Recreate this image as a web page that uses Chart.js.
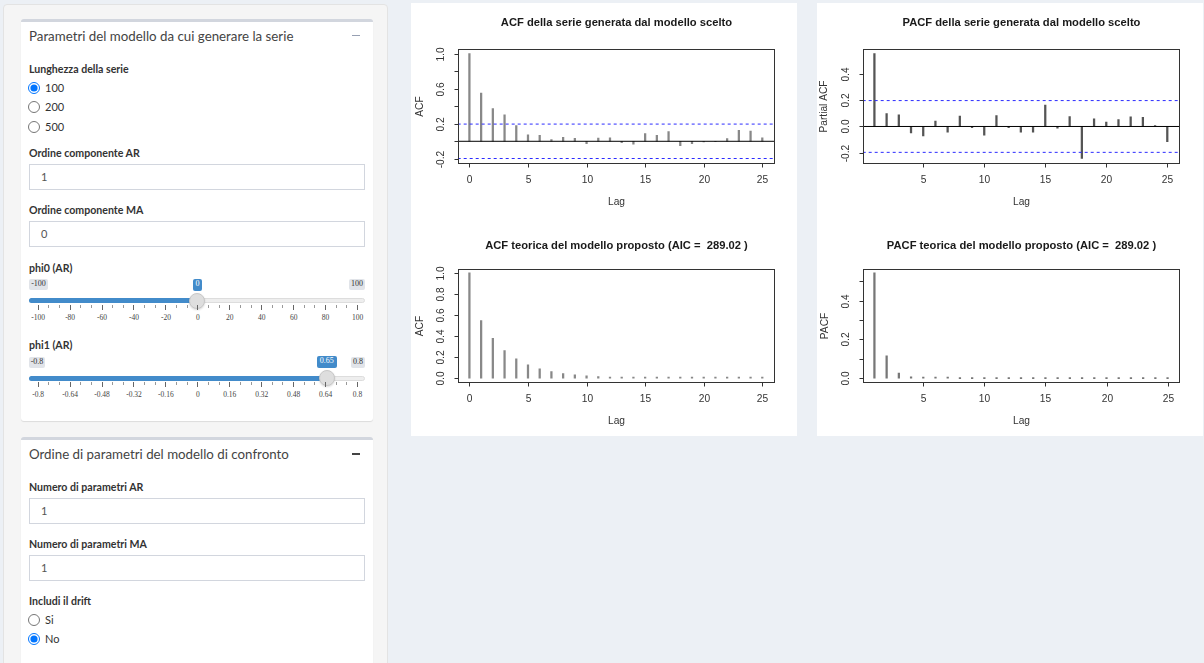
<!DOCTYPE html>
<html>
<head>
<meta charset="utf-8">
<script src="https://cdn.jsdelivr.net/npm/chart.js@4.4.0/dist/chart.umd.min.js"></script>
<style>
  body { margin: 0; width: 1204px; height: 663px; overflow: hidden; background: #ecf0f5; position: relative;
         font-family: Lato, "Noto Sans", sans-serif; color: #333; }
  .abs { position: absolute; }
  .well { left: 3px; top: 4px; width: 383px; height: 700px; background: #f5f5f5; border: 1px solid #e3e3e3; border-radius: 4px; }
  .box { left: 21px; width: 352px; background: #fff; border-top: 3px solid #d2d6de; border-radius: 3px;
         box-shadow: 0 1px 1px rgba(0,0,0,.1); }
  .t { position: absolute; white-space: nowrap; height: 16px; line-height: 16px; }
  .hdr { font-size: 13.3px; color: #444; }
  .lbl { font-weight: 700; font-size: 10.6px; color: #333; }
  .opt { font-size: 11px; color: #333; }
  .inp { position: absolute; left: 29px; width: 336px; height: 26px; box-sizing: border-box; border: 1px solid #d2d6de; background: #fff; }
  .val { position: absolute; left: 11px; top: 4px; font-size: 11px; color: #555; line-height: 16px; }
  input[type=radio] { position: absolute; margin: 0; width: 12px; height: 12px; }
  .minmax { position: absolute; height: 11px; line-height: 11px; font: 8px "Liberation Serif", serif; color: #333;
            background: #e1e4e9; border-radius: 2px; text-align: center; }
  .single { position: absolute; height: 12px; line-height: 12px; font: 8px "Liberation Serif", serif; color: #fff;
            background: #428bca; border-radius: 2px; text-align: center; }
  .track { position: absolute; left: 29px; width: 336px; height: 5px; background: #eee; border: 1px solid #ddd; box-sizing: border-box; border-radius: 3px; }
  .fill { position: absolute; left: 29px; height: 5px; background: #428bca; border-radius: 3px 0 0 3px; }
  .handle { position: absolute; width: 16px; height: 16px; border-radius: 50%; background: #dedede; border: 1px solid #c8c8c8;
            box-sizing: border-box; box-shadow: 0 1px 2px rgba(0,0,0,.15); }
  .tick { position: absolute; width: 1px; background: #666; }
  .glab { position: absolute; font: 7.5px "Liberation Serif", serif; color: #444; transform: translateX(-50%); white-space: nowrap; line-height: 9px; }
  .panel { background: #fff; top: 3px; width: 386px; height: 433px; }
  canvas { position: absolute; left: 0; }
</style>
</head>
<body>
<div class="abs well"></div>

<div class="abs box" style="top:19px;height:399px"></div>
<div class="t hdr" style="left:29px;top:28px">Parametri del modello da cui generare la serie</div>
<div class="abs" style="left:352px;top:35px;width:8px;height:1px;background:#97a0b3"></div>

<div class="t lbl" style="left:29px;top:61px">Lunghezza della serie</div>
<input type="radio" name="n" checked style="left:27.5px;top:81.5px">
<div class="t opt" style="left:45px;top:79.5px">100</div>
<input type="radio" name="n" style="left:27.5px;top:101px">
<div class="t opt" style="left:45px;top:99px">200</div>
<input type="radio" name="n" style="left:27.5px;top:120.5px">
<div class="t opt" style="left:45px;top:118.5px">500</div>

<div class="t lbl" style="left:29px;top:144.5px">Ordine componente AR</div>
<div class="inp" style="top:164px"><span class="val">1</span></div>
<div class="t lbl" style="left:29px;top:201.5px">Ordine componente MA</div>
<div class="inp" style="top:220.5px"><span class="val">0</span></div>

<div class="t lbl" style="left:29px;top:259.5px">phi0 (AR)</div>
<div class="minmax" style="left:29px;top:279px;width:19px">-100</div>
<div class="minmax" style="left:349px;top:279px;width:16px">100</div>
<div class="single" style="left:193px;top:278.5px;width:9px">0</div>
<div class="track" style="top:298px"></div>
<div class="fill" style="top:298px;width:168px"></div>
<div class="handle" style="left:189px;top:292.5px"></div>
<div id="grid0"></div>

<div class="t lbl" style="left:29px;top:337px">phi1 (AR)</div>
<div class="minmax" style="left:29px;top:356.5px;width:16px">-0.8</div>
<div class="minmax" style="left:351px;top:356.5px;width:14px">0.8</div>
<div class="single" style="left:317px;top:356px;width:19.5px">0.65</div>
<div class="track" style="top:375.5px"></div>
<div class="fill" style="top:375.5px;width:298px"></div>
<div class="handle" style="left:318.7px;top:370px"></div>
<div id="grid1"></div>

<div class="abs box" style="top:437px;height:300px"></div>
<div class="t hdr" style="left:29px;top:446px">Ordine di parametri del modello di confronto</div>
<div class="abs" style="left:352px;top:453px;width:8px;height:2px;background:#444"></div>
<div class="t lbl" style="left:29px;top:478.5px">Numero di parametri AR</div>
<div class="inp" style="top:497.5px"><span class="val">1</span></div>
<div class="t lbl" style="left:29px;top:535.5px">Numero di parametri MA</div>
<div class="inp" style="top:554.5px"><span class="val">1</span></div>
<div class="t lbl" style="left:29px;top:592.5px">Includi il drift</div>
<input type="radio" name="d" style="left:27.5px;top:614px">
<div class="t opt" style="left:45px;top:612px">Si</div>
<input type="radio" name="d" checked style="left:27.5px;top:633px">
<div class="t opt" style="left:45px;top:631px">No</div>

<div class="abs panel" style="left:411px">
  <canvas id="acfSample" width="386" height="217" style="top:0"></canvas>
  <canvas id="acfTheo" width="386" height="216" style="top:217px"></canvas>
</div>
<div class="abs panel" style="left:817px">
  <canvas id="pacfSample" width="386" height="217" style="top:0"></canvas>
  <canvas id="pacfTheo" width="386" height="216" style="top:217px"></canvas>
</div>

<script>
  // lags
  const acfLags = [0, 1, 2, 3, 4, 5, 6, 7, 8, 9, 10, 11, 12, 13, 14, 15, 16, 17, 18, 19, 20, 21, 22, 23, 24, 25];
  const pacfLags = [1, 2, 3, 4, 5, 6, 7, 8, 9, 10, 11, 12, 13, 14, 15, 16, 17, 18, 19, 20, 21, 22, 23, 24, 25];

  // serie generata (n = 100)
  const acfSample = [1.0, 0.55, 0.374, 0.30, 0.18, 0.075, 0.068, 0.02, 0.045, 0.034, -0.026, 0.038, 0.04,
                     -0.015, -0.034, 0.087, 0.068, 0.11, -0.05, -0.026, -0.008, -0.003, 0.03, 0.125, 0.117, 0.04];
  const pacfSample = [0.5525, 0.0975, 0.0875, -0.048, -0.072, 0.04, -0.043, 0.078, -0.01, -0.065, 0.083, -0.01,
                      -0.043, -0.043, 0.1625, -0.0125, 0.075, -0.2425, 0.0575, 0.0325, 0.0525, 0.0725, 0.07, 0.0075, -0.115];
  const ciLimit = 0.196;

  // modello proposto
  const acfTheo = [1.0, 0.546, 0.379, 0.262, 0.183, 0.126, 0.088, 0.063, 0.044, 0.030, 0.021, 0.015, 0.010,
                   0.007, 0.005, 0.0035, 0.0025, 0.0017, 0.0012, 0.0008, 0.0006, 0.0004, 0.0003, 0.0002, 0.00015, 0.0001];
  const pacfTheo = [0.544, 0.115, 0.026, 0.007, 0.0016, 0.0004, 0.0001, 0, 0, 0, 0, 0,
                    0, 0, 0, 0, 0, 0, 0, 0, 0, 0, 0, 0, 0];

  // tick marks and labels
  const acfXTicks = [0, 5, 10, 15, 20, 25];
  const pacfXTicks = [5, 10, 15, 20, 25];
  const acfSampleYTicks = [-0.2, 0, 0.2, 0.4, 0.6, 0.8, 1.0];
  const acfSampleYLabels = ['-0.2', '', '0.2', '', '0.6', '', '1.0'];
  const pacfSampleYTicks = [-0.2, 0, 0.2, 0.4];
  const pacfSampleYLabels = ['-0.2', '0.0', '0.2', '0.4'];
  const acfTheoYTicks = [0, 0.2, 0.4, 0.6, 0.8, 1.0];
  const acfTheoYLabels = ['0.0', '0.2', '0.4', '0.6', '0.8', '1.0'];
  const pacfTheoYTicks = [0, 0.1, 0.2, 0.3, 0.4, 0.5];
  const pacfTheoYLabels = ['0.0', '', '0.2', '', '0.4', ''];

  const phi0Grid = ['-100', '-80', '-60', '-40', '-20', '0', '20', '40', '60', '80', '100'];
  const phi1Grid = ['-0.8', '-0.64', '-0.48', '-0.32', '-0.16', '0', '0.16', '0.32', '0.48', '0.64', '0.8'];

  // slider grids (ionRangeSlider look)
  function drawGrid(el, labels, tickTop, labTop) {
    let html = '';
    const x0 = 37.7, step = 31.93;
    labels.forEach((lab, i) => {
      const x = x0 + i * step;
      html += `<div class="tick" style="left:${x}px;top:${tickTop}px;height:5px"></div>`;
      html += `<div class="glab" style="left:${x + 0.5}px;top:${labTop}px">${lab}</div>`;
      if (i < labels.length - 1) {
        for (let k = 1; k < 3; k++) {
          html += `<div class="tick" style="left:${x + k * step / 3}px;top:${tickTop}px;height:3px;background:#999"></div>`;
        }
      }
    });
    document.getElementById(el).innerHTML = html;
  }
  drawGrid('grid0', phi0Grid, 305, 313);
  drawGrid('grid1', phi1Grid, 382, 390);

  // R-like range: data range expanded by 4%
  function rRange(vals) {
    const lo = Math.min(...vals), hi = Math.max(...vals);
    const d = (hi - lo) * 0.04;
    return [lo - d, hi + d];
  }

  // box, axes and titles drawn the way base R does
  const rAxes = {
    id: 'rAxes',
    afterDraw(chart, args, o) {
      const { ctx, chartArea: a, scales: { x, y } } = chart;
      const L = Math.round(a.left) + 0.5, R = Math.round(a.right) + 0.5;
      const T = Math.round(a.top) + 0.5, B = Math.round(a.bottom) + 0.5;
      ctx.save();
      ctx.strokeStyle = '#333';
      ctx.lineWidth = 1;
      ctx.strokeRect(L, T, R - L, B - T);
      ctx.fillStyle = '#333';
      ctx.font = '10.2px "Liberation Sans", Arial, sans-serif';
      ctx.textAlign = 'center';
      ctx.textBaseline = 'middle';
      ctx.beginPath();
      o.xTicks.forEach(t => {
        const px = Math.round(x.getPixelForValue(t)) + 0.5;
        ctx.moveTo(px, B); ctx.lineTo(px, B + 4);
        ctx.fillText(String(t), px, B + 17);
      });
      o.yTicks.forEach((t, i) => {
        const py = Math.round(y.getPixelForValue(t)) + 0.5;
        ctx.moveTo(L - 4, py); ctx.lineTo(L, py);
        if (o.yLabels[i]) {
          ctx.save();
          ctx.translate(L - 17, py);
          ctx.rotate(-Math.PI / 2);
          ctx.fillText(o.yLabels[i], 0, 0);
          ctx.restore();
        }
      });
      ctx.stroke();
      ctx.fillText('Lag', (L + R) / 2, B + 39);
      ctx.save();
      ctx.translate(L - o.yTitleGap, (T + B) / 2);
      ctx.rotate(-Math.PI / 2);
      ctx.fillText(o.yTitle, 0, 0);
      ctx.restore();
      ctx.fillStyle = '#1a1a1a';
      ctx.font = 'bold 11.2px "Liberation Sans", Arial, sans-serif';
      ctx.fillText(o.title, (L + R) / 2, o.titleY);
      ctx.restore();
    }
  };

  function hline(yv, xr, color, dash) {
    return {
      type: 'line',
      data: [{ x: xr[0], y: yv }, { x: xr[1], y: yv }],
      borderColor: color, borderWidth: 1, borderDash: dash,
      pointRadius: 0, order: 0
    };
  }

  function makeChart(id, lags, vals, opt) {
    const xr = rRange(lags);
    const yr = rRange(opt.ci ? vals.concat([ciLimit, -ciLimit]) : vals);
    const datasets = [{
      type: 'bar',
      data: lags.map((l, i) => ({ x: l, y: vals[i] })),
      backgroundColor: opt.barColor,
      barThickness: 1.6,
      minBarLength: opt.minBar || 0,
      order: 1
    }];
    if (opt.ci) {
      datasets.push(hline(0, xr, '#000', []));
      datasets.push(hline(ciLimit, xr, '#2b2bff', [3, 3]));
      datasets.push(hline(-ciLimit, xr, '#2b2bff', [3, 3]));
    }
    return new Chart(document.getElementById(id), {
      type: 'bar',
      data: { datasets },
      options: {
        responsive: false,
        animation: false,
        layout: { padding: opt.pad },
        scales: {
          x: { type: 'linear', min: xr[0], max: xr[1], display: false, offset: false },
          y: { type: 'linear', min: yr[0], max: yr[1], display: false }
        },
        plugins: {
          legend: { display: false },
          tooltip: { enabled: false },
          rAxes: opt.axes
        }
      },
      plugins: [rAxes]
    });
  }

  makeChart('acfSample', acfLags, acfSample, {
    ci: true, barColor: '#888',
    pad: { left: 46.7, top: 46.3, right: 23, bottom: 57.3 },
    axes: { xTicks: acfXTicks, yTicks: acfSampleYTicks, yLabels: acfSampleYLabels, yTitle: 'ACF', yTitleGap: 38.4,
            title: 'ACF della serie generata dal modello scelto', titleY: 20.3 }
  });
  makeChart('acfTheo', acfLags, acfTheo, {
    ci: false, barColor: '#888', minBar: 1,
    pad: { left: 46.7, top: 48.7, right: 23, bottom: 53.7 },
    axes: { xTicks: acfXTicks, yTicks: acfTheoYTicks, yLabels: acfTheoYLabels, yTitle: 'ACF', yTitleGap: 38.4,
            title: 'ACF teorica del modello proposto (AIC =  289.02 )', titleY: 26.3 }
  });
  makeChart('pacfSample', pacfLags, pacfSample, {
    ci: true, barColor: '#555',
    pad: { left: 45.7, top: 46.3, right: 24, bottom: 57.3 },
    axes: { xTicks: pacfXTicks, yTicks: pacfSampleYTicks, yLabels: pacfSampleYLabels, yTitle: 'Partial ACF', yTitleGap: 39.4,
            title: 'PACF della serie generata dal modello scelto', titleY: 20.3 }
  });
  makeChart('pacfTheo', pacfLags, pacfTheo, {
    ci: false, barColor: '#777', minBar: 1,
    pad: { left: 45.7, top: 48.7, right: 23.7, bottom: 53.7 },
    axes: { xTicks: pacfXTicks, yTicks: pacfTheoYTicks, yLabels: pacfTheoYLabels, yTitle: 'PACF', yTitleGap: 38.4,
            title: 'PACF teorica del modello proposto (AIC =  289.02 )', titleY: 26.3 }
  });
</script>
</body>
</html>
